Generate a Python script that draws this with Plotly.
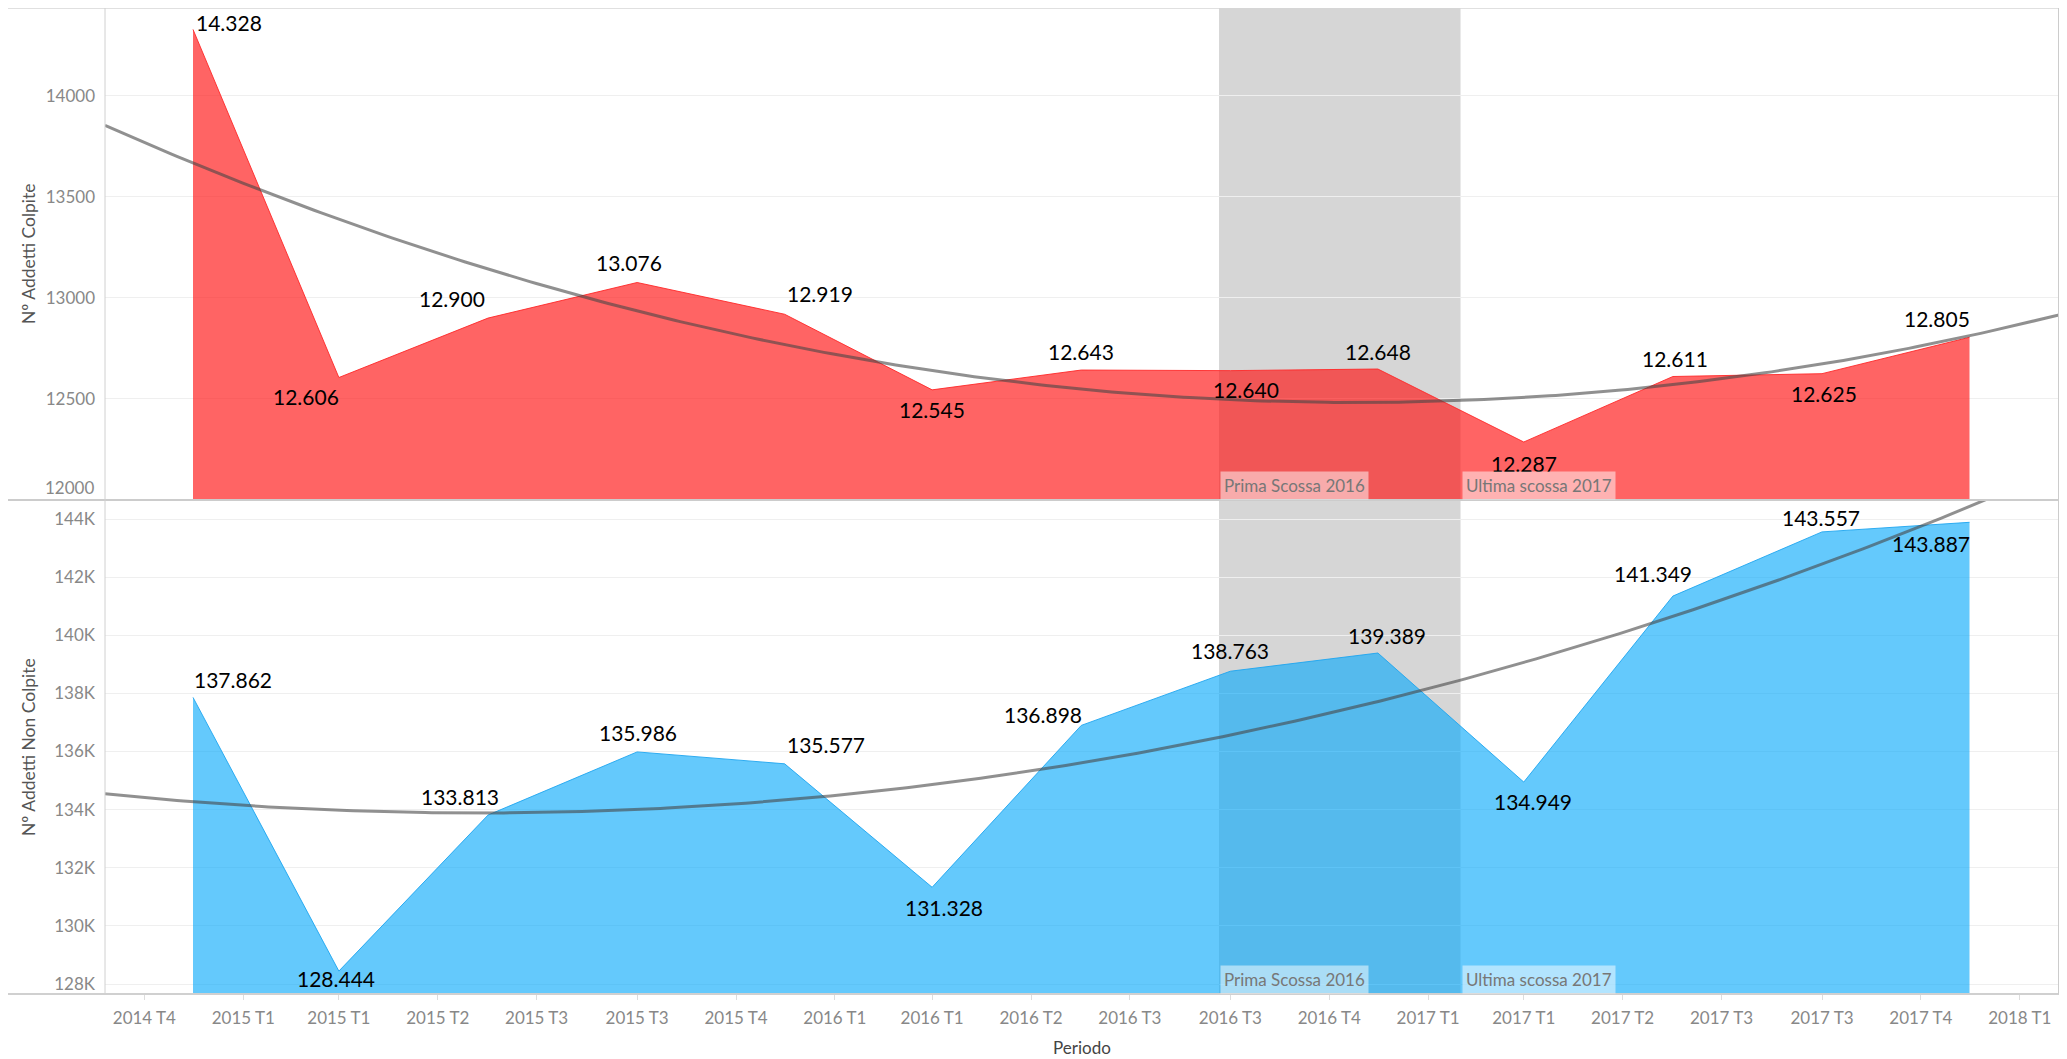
import numpy as np
import pandas as pd
import plotly.graph_objects as go

# ---------------- data ----------------
periodi = ["2014-12-01", "2015-03-01", "2015-06-01", "2015-09-01", "2015-12-01",
           "2016-03-01", "2016-06-01", "2016-09-01", "2016-12-01", "2017-03-01",
           "2017-06-01", "2017-09-01", "2017-12-01"]
addetti_colpite = [14328, 12606, 12900, 13076, 12919, 12545, 12643, 12640, 12648,
                   12287, 12611, 12625, 12805]
addetti_non_colpite = [137862, 128444, 133813, 135986, 135577, 131328, 136898, 138763,
                       139389, 134949, 141349, 143557, 143887]

x_tick_dates = ["2014-11-01", "2015-01-01", "2015-03-01", "2015-05-01", "2015-07-01",
                "2015-09-01", "2015-11-01", "2016-01-01", "2016-03-01", "2016-05-01",
                "2016-07-01", "2016-09-01", "2016-11-01", "2017-01-01", "2017-03-01",
                "2017-05-01", "2017-07-01", "2017-09-01", "2017-11-01", "2018-01-01"]
x_tick_labels = ["2014 T4", "2015 T1", "2015 T1", "2015 T2", "2015 T3", "2015 T3",
                 "2015 T4", "2016 T1", "2016 T1", "2016 T2", "2016 T3", "2016 T3",
                 "2016 T4", "2017 T1", "2017 T1", "2017 T2", "2017 T3", "2017 T3",
                 "2017 T4", "2018 T1"]
y1_ticks = [12000, 12500, 13000, 13500, 14000]
y1_labels = ["12000", "12500", "13000", "13500", "14000"]
y2_ticks = [128000, 130000, 132000, 134000, 136000, 138000, 140000, 142000, 144000]
y2_labels = ["128K", "130K", "132K", "134K", "136K", "138K", "140K", "142K", "144K"]

eventi_date = ["2016-08-25", "2017-01-21"]
eventi_testo = ["Prima Scossa 2016", "Ultima scossa 2017"]

# ---------------- style ----------------
X_RANGE = ["2014-10-07 17:00", "2018-01-25 05:00"]
Y1_RANGE = [12000, 14434]
Y2_RANGE = [127656, 144654]
FONT = "Lato"
SPLIT = 0.501
W, H = 2059, 1051
ML, MR, MT, MB = 97, 8, 0, 65
PW = W - ML - MR
PH = H - MT - MB

# label offsets (dx, dy) in pixels, per point
off_top = [(36, 7), (-33, -19), (-36, 20), (-8, 20), (35, 21), (0, -20), (0, 19),
           (16, -19), (0, 18), (0, -21), (2, 18), (2, -20), (-33, 19)]
off_bot = [(40, 18), (-3, -7), (-28, 19), (1, 19), (41, 19), (12, -20), (-38, 11),
           (0, 21), (9, 18), (9, -19), (-20, 23), (-1, 14), (-39, -21)]

dates = pd.to_datetime(periodi)

def trend(vals):
    d = (dates - dates[0]).days.values.astype(float)
    coef = np.polyfit(d, np.array(vals, dtype=float), 2)
    grid = pd.date_range(X_RANGE[0], X_RANGE[1], periods=300)
    gd = (grid - dates[0]).total_seconds().values / 86400.0
    return grid, np.polyval(coef, gd)

fig = go.Figure()

# areas
fig.add_trace(go.Scatter(x=dates, y=addetti_colpite, mode="lines", fill="tozeroy",
                         fillcolor="rgba(255,20,20,0.66)",
                         line=dict(color="rgba(255,40,40,0.9)", width=1),
                         xaxis="x", yaxis="y", hoverinfo="skip", showlegend=False))
fig.add_trace(go.Scatter(x=dates, y=addetti_non_colpite, mode="lines", fill="tozeroy",
                         fillcolor="rgba(10,170,250,0.63)",
                         line=dict(color="rgba(30,165,240,0.9)", width=1),
                         xaxis="x", yaxis="y2", hoverinfo="skip", showlegend=False))

# trend lines
TREND = dict(color="rgba(70,70,70,0.6)", width=3)
gx, gy = trend(addetti_colpite)
fig.add_trace(go.Scatter(x=gx, y=gy, mode="lines", line=TREND,
                         xaxis="x", yaxis="y", hoverinfo="skip", showlegend=False))
gx, gy = trend(addetti_non_colpite)
fig.add_trace(go.Scatter(x=gx, y=gy, mode="lines", line=TREND,
                         xaxis="x", yaxis="y2", hoverinfo="skip", showlegend=False))

def fmt(v):
    return f"{v:,}".replace(",", ".")

annotations = []
for d, v, (dx, dy) in zip(periodi, addetti_colpite, off_top):
    annotations.append(dict(x=d, y=v, xref="x", yref="y", text=fmt(v), showarrow=False,
                            xanchor="center", yanchor="middle", xshift=dx, yshift=dy,
                            font=dict(family=FONT, size=21, color="#000")))
for d, v, (dx, dy) in zip(periodi, addetti_non_colpite, off_bot):
    annotations.append(dict(x=d, y=v, xref="x", yref="y2", text=fmt(v), showarrow=False,
                            xanchor="center", yanchor="middle", xshift=dx, yshift=dy,
                            font=dict(family=FONT, size=21, color="#000")))

# event labels
for ed, et in zip(eventi_date, eventi_testo):
    for yr in ["y domain", "y2 domain"]:
        annotations.append(dict(x=ed, y=0, xref="x", yref=yr, text=et, showarrow=False,
                                xanchor="left", yanchor="bottom", xshift=1,
                                bgcolor="rgba(255,255,255,0.5)", borderpad=3,
                                font=dict(family=FONT, size=17, color="#777")))

# edge tick label of top axis
annotations.append(dict(x=0, xref="paper", y=y1_ticks[0], yref="y", text=y1_labels[0],
                        showarrow=False, xanchor="right", yanchor="bottom", xshift=-9,
                        yshift=0, font=dict(family=FONT, size=17, color="#888")))

# axis titles
tx = -77 / PW
annotations.append(dict(x=tx, xref="paper", y=(1 + SPLIT) / 2, yref="paper",
                        text="Nº Addetti Colpite", textangle=-90, showarrow=False,
                        xanchor="center", yanchor="middle",
                        font=dict(family=FONT, size=17.5, color="#555")))
annotations.append(dict(x=tx, xref="paper", y=SPLIT / 2, yref="paper",
                        text="Nº Addetti Non Colpite", textangle=-90, showarrow=False,
                        xanchor="center", yanchor="middle",
                        font=dict(family=FONT, size=17.5, color="#555")))
annotations.append(dict(x=0.5, xref="paper", y=-53 / PH, yref="paper", text="Periodo",
                        showarrow=False, xanchor="center", yanchor="middle",
                        font=dict(family=FONT, size=17, color="#444")))

x_ext = -ML / PW
shapes = [
    dict(type="rect", xref="x", yref="paper", x0=eventi_date[0], x1=eventi_date[1],
         y0=0, y1=1, fillcolor="#D6D6D6", line=dict(width=0), layer="below"),
    dict(type="line", xref="paper", yref="paper", x0=x_ext, x1=1, y0=1, y1=1,
         line=dict(color="#d6d6d6", width=1.5)),
    dict(type="line", xref="paper", yref="paper", x0=x_ext, x1=1, y0=SPLIT, y1=SPLIT,
         line=dict(color="#cccccc", width=2)),
    dict(type="line", xref="paper", yref="paper", x0=x_ext, x1=1, y0=0, y1=0,
         line=dict(color="#d0d0d0", width=2)),
    dict(type="line", xref="paper", yref="paper", x0=0, x1=0, y0=0, y1=1,
         line=dict(color="#d0d0d0", width=1)),
    dict(type="line", xref="paper", yref="paper", x0=1, x1=1, y0=0, y1=1,
         line=dict(color="#cccccc", width=2)),
]

fig.update_layout(
    width=W, height=H, autosize=False,
    margin=dict(l=ML, r=MR, t=MT, b=MB, pad=0),
    paper_bgcolor="white", plot_bgcolor="white",
    font=dict(family=FONT, size=17, color="#888"),
    showlegend=False,
    xaxis=dict(type="date", range=X_RANGE, anchor="y2", tickmode="array",
               tickvals=x_tick_dates, ticktext=x_tick_labels, ticks="outside",
               ticklen=5, tickcolor="#dddddd", showgrid=False, showline=False,
               zeroline=False, ticklabelstandoff=4,
               tickfont=dict(family=FONT, size=17, color="#888")),
    yaxis=dict(domain=[SPLIT, 1], range=Y1_RANGE, anchor="x", tickmode="array",
               tickvals=y1_ticks, ticktext=[""] + y1_labels[1:], showline=False,
               zeroline=False, gridcolor="#efefef", gridwidth=1, ticklabelstandoff=9,
               tickfont=dict(family=FONT, size=17, color="#888")),
    yaxis2=dict(domain=[0, SPLIT], range=Y2_RANGE, anchor="x", tickmode="array",
                tickvals=y2_ticks, ticktext=y2_labels, showline=False,
                zeroline=False, gridcolor="#efefef", gridwidth=1, ticklabelstandoff=9,
                tickfont=dict(family=FONT, size=17, color="#888")),
    annotations=annotations,
    shapes=shapes,
)

fig.write_html("out.html")
